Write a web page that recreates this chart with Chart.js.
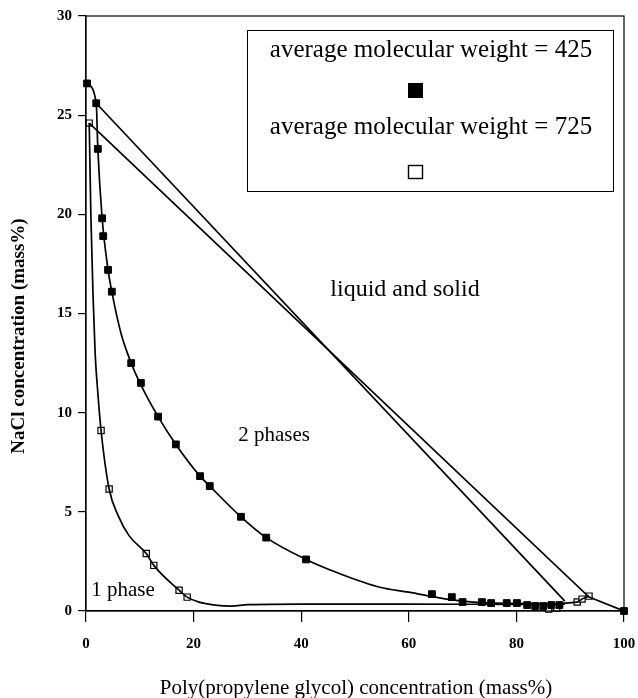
<!DOCTYPE html>
<html>
<head>
<meta charset="utf-8">
<script src="https://cdn.jsdelivr.net/npm/chart.js@4.4.0/dist/chart.umd.min.js"></script>
<style>
  body { margin: 0; background: #fff; }
  #grafico { display: block; }
</style>
</head>
<body>
<canvas id="grafico" width="638" height="698"></canvas>
<script>
// datos (PPG % masa, NaCl % masa)
const marcas425 = [
    [0.2, 26.6], [1.9, 25.6], [2.2, 23.3], [3, 19.8], [3.2, 18.9], [4.1, 17.2], [4.8, 16.1],
    [8.4, 12.5], [10.2, 11.5], [13.4, 9.8], [16.7, 8.4], [21.2, 6.8], [23, 6.3], [28.8, 4.75],
    [33.5, 3.7], [40.9, 2.6], [64.3, 0.85], [68, 0.7], [70, 0.45], [73.6, 0.45], [75.3, 0.4],
    [78.2, 0.4], [80.1, 0.4], [82, 0.3], [83.5, 0.25], [85, 0.25], [86.5, 0.3], [88, 0.3], [100, 0]
];
const marcas725 = [
    [0.6, 24.6], [2.8, 9.1], [4.3, 6.15], [11.2, 2.9], [12.6, 2.3], [17.3, 1.05], [18.8, 0.7],
    [86, 0.1], [87.5, 0.15], [91.3, 0.45], [92.2, 0.6], [93.5, 0.75]
];
const curva425 = [
    [0.2, 26.6], [1.9, 25.6], [2.2, 23.3], [3, 19.8], [4.1, 17.2], [4.8, 16.1], [6.5, 14],
    [8.4, 12.5], [10.2, 11.4], [13.4, 9.8], [16.7, 8.4], [21.2, 6.8], [23, 6.3], [28.8, 4.75],
    [33.5, 3.7], [40.9, 2.6], [47, 1.9], [54.6, 1.2], [60, 0.95], [67, 0.6], [72, 0.45],
    [80, 0.38], [89, 0.35]
];
const curva725 = [
    [0.6, 24.6], [0.9, 20], [1.3, 16], [1.7, 13], [2.2, 11], [2.8, 9.1], [4.3, 6.15],
    [6, 4.8], [8, 3.8], [11.2, 2.9], [12.6, 2.3], [17.3, 1.05], [18.8, 0.7], [21, 0.45], [24, 0.3],
    [27, 0.25], [30, 0.32], [40, 0.35], [60, 0.35], [80, 0.33], [91.3, 0.45], [92.2, 0.6], [93.5, 0.75]
];
const union425 = [[1.9, 25.6], [89, 0.5]];
const union725 = [[0.6, 24.6], [93.5, 0.7], [100, 0]];

const ticksX = [0, 20, 40, 60, 80, 100];
const ticksY = [0, 5, 10, 15, 20, 25, 30];

const textoLeyenda = ["average molecular weight = 425", "average molecular weight = 725"];
const etiquetas = ["liquid and solid", "2 phases", "1 phase"];
const tituloX = "Poly(propylene glycol) concentration (mass%)";
const tituloY = "NaCl concentration (mass%)";

const FUENTE = "'Liberation Serif', 'Times New Roman', serif";

function puntos(arr) {
    return arr.map(function(p) { return { x: p[0], y: p[1] }; });
}

const extras = {
    id: "extras",
    afterDraw: function(chart) {
        const ctx = chart.ctx;
        const a = chart.chartArea;
        ctx.save();
        ctx.strokeStyle = "#000";
        ctx.lineWidth = 1.2;
        ctx.strokeRect(a.left, a.top, a.right - a.left, a.bottom - a.top);

        // leyenda
        ctx.lineWidth = 1;
        ctx.strokeRect(247.5, 30.5, 366, 161);
        ctx.fillStyle = "#000";
        ctx.textAlign = "center";
        ctx.textBaseline = "middle";
        ctx.font = "25px " + FUENTE;
        ctx.fillText(textoLeyenda[0], 431, 50);
        ctx.fillText(textoLeyenda[1], 431, 127);
        ctx.fillRect(408, 83, 15, 15);
        ctx.lineWidth = 1.4;
        ctx.strokeRect(408.5, 165.5, 14, 13);

        // etiquetas de regiones
        ctx.font = "24px " + FUENTE;
        ctx.fillText(etiquetas[0], 405, 290);
        ctx.font = "21px " + FUENTE;
        ctx.fillText(etiquetas[1], 274, 435);
        ctx.fillText(etiquetas[2], 123, 590);

        // titulos de ejes
        ctx.font = "21px " + FUENTE;
        ctx.fillText(tituloX, 356, 688);
        ctx.translate(19, 336);
        ctx.rotate(-Math.PI / 2);
        ctx.font = "bold 19px " + FUENTE;
        ctx.fillText(tituloY, 0, 0);
        ctx.restore();
    }
};

function graficoFases() {
    let grafico = document.getElementById("grafico").getContext("2d");
    const linea = {
        showLine: true,
        pointRadius: 0,
        borderColor: "#000",
        borderWidth: 1.7,
        fill: false
    };
    var chart = new Chart(grafico, {
        type: "scatter",
        data: {
            datasets: [
                Object.assign({ data: puntos(curva425), tension: 0.4, cubicInterpolationMode: "monotone" }, linea),
                Object.assign({ data: puntos(curva725), tension: 0.4, cubicInterpolationMode: "monotone" }, linea),
                Object.assign({ data: puntos(union425), tension: 0 }, linea),
                Object.assign({ data: puntos(union725), tension: 0 }, linea),
                {
                    data: puntos(marcas425),
                    pointStyle: "rect",
                    pointRadius: 4.8,
                    backgroundColor: "#000",
                    borderColor: "#000",
                    borderWidth: 1,
                    clip: false
                },
                {
                    data: puntos(marcas725),
                    pointStyle: "rect",
                    pointRadius: 4.4,
                    backgroundColor: "#fff",
                    borderColor: "#000",
                    borderWidth: 1.2,
                    clip: false
                }
            ]
        },
        options: {
            responsive: false,
            animation: false,
            layout: { padding: { left: 0, right: 14, top: 16, bottom: 0 } },
            plugins: { legend: { display: false }, tooltip: { enabled: false } },
            scales: {
                x: {
                    type: "linear",
                    min: 0,
                    max: 100,
                    afterBuildTicks: function(s) { s.ticks = ticksX.map(function(v) { return { value: v }; }); },
                    afterFit: function(s) { s.height = 87; s.paddingLeft = 0; s.paddingRight = 0; },
                    grid: { drawOnChartArea: false, drawTicks: true, tickLength: 11, color: "#000", lineWidth: 1.2 },
                    border: { display: true, color: "#000", width: 1.2 },
                    ticks: { color: "#000", padding: 13, maxRotation: 0, font: { family: FUENTE, size: 15, weight: "bold" } }
                },
                y: {
                    type: "linear",
                    min: 0,
                    max: 30,
                    afterBuildTicks: function(s) { s.ticks = ticksY.map(function(v) { return { value: v }; }); },
                    afterFit: function(s) { s.width = 86; s.paddingTop = 0; s.paddingBottom = 0; },
                    grid: { drawOnChartArea: false, drawTicks: true, tickLength: 8, color: "#000", lineWidth: 1.2 },
                    border: { display: true, color: "#000", width: 1.2 },
                    ticks: { color: "#000", padding: 6, font: { family: FUENTE, size: 15, weight: "bold" } }
                }
            }
        },
        plugins: [extras]
    });
}

graficoFases();
</script>
</body>
</html>
